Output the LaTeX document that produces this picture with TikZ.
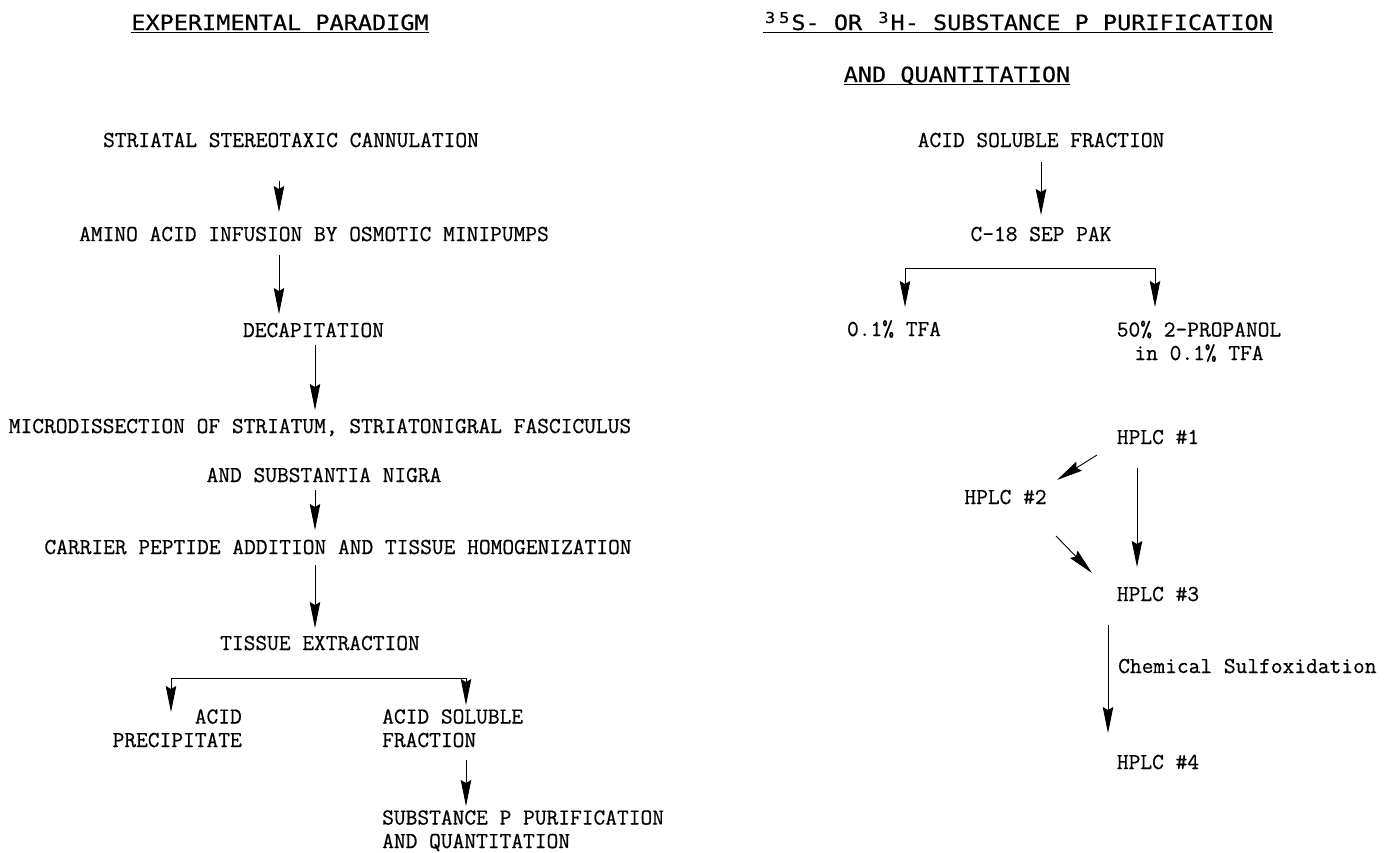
\documentclass[tikz,border=0pt]{standalone}
\usepackage{fontspec}
\usetikzlibrary{arrows.meta}
\newfontfamily\hdfont[FakeStretch=1.12,FakeBold=0.5]{DejaVu Sans Mono}
\newfontfamily\bodyfont[FakeBold=0.6]{Latin Modern Mono}
\newcommand{\hsup}[1]{\makebox[14.16pt][c]{\raisebox{7pt}{\fontsize{15}{15}\selectfont #1}}}
\begin{document}
\begin{tikzpicture}[x=1pt,y=-1pt,
  body/.style={font={\bodyfont\fontsize{22.8}{23.5}\selectfont}, inner sep=0pt, anchor=base},
  hd/.style={font={\hdfont\fontsize{21}{25}\selectfont}, inner sep=0pt, anchor=base},
  ln/.style={line width=0.9pt},
  arr/.style={line width=0.9pt, -{Stealth[length=26pt,width=10.5pt,inset=3pt]}},
  uline/.style={line width=1.2pt}]
\useasboundingbox[fill=white] (0,0) rectangle (1388,852);

% headers
\node[hd] (h1) at (280,30) {EXPERIMENTAL PARADIGM};
\draw[uline] ([yshift=-2.5pt]h1.base west) -- ([yshift=-2.5pt]h1.base east);
\node[hd] (h2) at (1018,30) {\hsup{3}\hsup{5}S- OR \hsup{3}H- SUBSTANCE P PURIFICATION};
\draw[uline] ([yshift=-2.5pt]h2.base west) -- ([yshift=-2.5pt]h2.base east);
\node[hd] (h3) at (957,82) {AND QUANTITATION};
\draw[uline] ([yshift=-2.5pt]h3.base west) -- ([yshift=-2.5pt]h3.base east);

% left column
\node[body] (a1) at (291,147) {STRIATAL STEREOTAXIC CANNULATION};
\node[body] (a2) at (314,241) {AMINO ACID INFUSION BY OSMOTIC MINIPUMPS};
\node[body] (a3) at (313.5,337) {DECAPITATION};
\node[body] (a4) at (320,433) {MICRODISSECTION OF STRIATUM, STRIATONIGRAL FASCICULUS};
\node[body] (a5) at (324,482) {AND SUBSTANTIA NIGRA};
\node[body] (a6) at (338,554) {CARRIER PEPTIDE ADDITION AND TISSUE HOMOGENIZATION};
\node[body] (a7) at (320,650) {TISSUE EXTRACTION};
\node[body, anchor=base east, align=right] (a8) at (242,747) {ACID\\PRECIPITATE};
\node[body, anchor=base west, align=left] (a9) at (382,747) {ACID SOLUBLE\\FRACTION};
\node[body, anchor=base west, align=left] (a10) at (382,848) {SUBSTANCE P PURIFICATION\\AND QUANTITATION};

\coordinate (c1s) at (279,181); \coordinate (c1e) at (279,212);
\coordinate (c2s) at (279,255); \coordinate (c2e) at (279,314);
\coordinate (c3s) at (315,345); \coordinate (c3e) at (315,410);
\coordinate (c4s) at (315,490); \coordinate (c4e) at (315,530);
\coordinate (c5s) at (315,565); \coordinate (c5e) at (315,628);
\coordinate (bl) at (171,678); \coordinate (br) at (466,678);
\coordinate (ble) at (171,712); \coordinate (bre) at (466,705);
\coordinate (c6s) at (466,760); \coordinate (c6e) at (466,806);

\draw[arr] (c1s) -- (c1e);
\draw[arr] (c2s) -- (c2e);
\draw[arr] (c3s) -- (c3e);
\draw[arr] (c4s) -- (c4e);
\draw[arr] (c5s) -- (c5e);
\draw[ln] (bl) -- (br);
\draw[arr] (bl) -- (ble);
\draw[arr] (br) -- (bre);
\draw[arr] (c6s) -- (c6e);

% right column
\node[body] (b1) at (1041,147) {ACID SOLUBLE FRACTION};
\node[body] (b2) at (1041,241) {C-18 SEP PAK};
\node[body] (b3) at (894,336) {0.1\% TFA};
\node[body, align=center] (b4) at (1199,360) {50\% 2-PROPANOL\\in 0.1\% TFA};
\node[body] (p1) at (1158,444) {HPLC \#1};
\node[body] (p2) at (1005.5,504) {HPLC \#2};
\node[body] (p3) at (1158,601) {HPLC \#3};
\node[body, anchor=base west] (cs) at (1118,673) {Chemical Sulfoxidation};
\node[body] (p4) at (1158,769) {HPLC \#4};

\coordinate (d1s) at (1041,162); \coordinate (d1e) at (1041,215);
\coordinate (rl) at (905,268); \coordinate (rr) at (1155,268);
\coordinate (rle) at (905,307); \coordinate (rre) at (1155,307);
\coordinate (e1s) at (1097,455); \coordinate (e1e) at (1057,480);
\coordinate (e2s) at (1137,468); \coordinate (e2e) at (1137,567);
\coordinate (e3s) at (1056,536); \coordinate (e3e) at (1092,573);
\coordinate (e4s) at (1108,625); \coordinate (e4e) at (1108,733);

\draw[arr] (d1s) -- (d1e);
\draw[ln] (rl) -- (rr);
\draw[arr] (rl) -- (rle);
\draw[arr] (rr) -- (rre);
\draw[arr] (e1s) -- (e1e);
\draw[arr] (e2s) -- (e2e);
\draw[arr] (e3s) -- (e3e);
\draw[arr] (e4s) -- (e4e);
\end{tikzpicture}
\end{document}
